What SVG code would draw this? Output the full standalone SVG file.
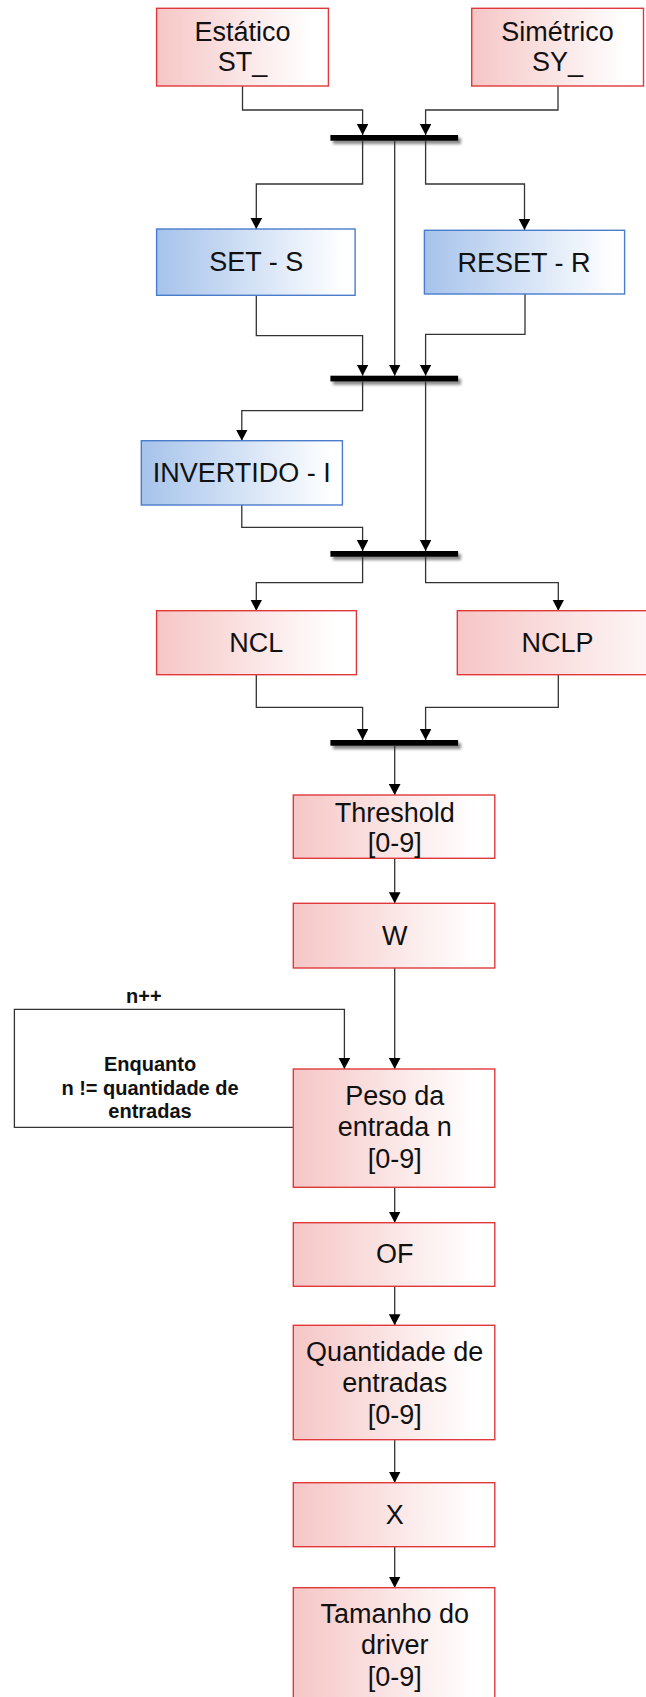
<svg xmlns="http://www.w3.org/2000/svg" width="646" height="1697" viewBox="0 0 646 1697">
<defs>
<linearGradient id="gr" x1="0" y1="0" x2="1" y2="0">
<stop offset="0" stop-color="#f6c6c6"/>
<stop offset="0.9" stop-color="#ffffff"/>
</linearGradient>
<linearGradient id="gb" x1="0" y1="0" x2="1" y2="0">
<stop offset="0" stop-color="#a6c3eb"/>
<stop offset="0.95" stop-color="#ffffff"/>
</linearGradient>
<filter id="sh" x="-20%" y="-100%" width="140%" height="400%">
<feGaussianBlur stdDeviation="1.8"/>
</filter>
<marker id="ah" markerUnits="userSpaceOnUse" markerWidth="12" markerHeight="12" refX="11" refY="5.8" orient="auto">
<path d="M0,0 L11,5.8 L0,11.6 z" fill="#000"/>
</marker>
</defs>
<style>
.red rect{fill:url(#gr);stroke:#e0393c;stroke-width:1.4}
.blue rect{fill:url(#gb);stroke:#4a7ccc;stroke-width:1.4}
text{font-family:"Liberation Sans",Arial,sans-serif;font-size:27px;fill:#111;text-anchor:middle}
.lbl{font-size:20px;font-weight:bold}
#connectors path{fill:none;stroke:#333;stroke-width:1.3}
.arr{marker-end:url(#ah)}
.bar{fill:#000}
.bsh{fill:#888;filter:url(#sh)}
</style>

<g id="bars">
<rect class="bsh" x="333" y="138" width="128" height="6"/>
<rect class="bar" x="330.4" y="135" width="127.7" height="5.7"/>
<rect class="bsh" x="333" y="378.7" width="128" height="6"/>
<rect class="bar" x="330.4" y="375.7" width="127.7" height="5.7"/>
<rect class="bsh" x="333" y="554" width="128" height="6"/>
<rect class="bar" x="330.4" y="551" width="127.7" height="5.7"/>
<rect class="bsh" x="333" y="743" width="128" height="6"/>
<rect class="bar" x="330.4" y="740" width="127.7" height="5.7"/>
</g>

<g id="connectors">
<path class="arr" d="M242.5 86 V110 H362.6 V135"/>
<path class="arr" d="M558 86 V110 H425.6 V135"/>
<path class="arr" d="M362.6 140.7 V184 H256.3 V229"/>
<path class="arr" d="M425.6 140.7 V184 H524.5 V230"/>
<path class="arr" d="M394.7 140.7 V375.7"/>
<path class="arr" d="M256.3 295 V335.7 H362.6 V375.7"/>
<path class="arr" d="M525 294 V334.3 H425.6 V375.7"/>
<path class="arr" d="M362.6 381.4 V410.7 H241.8 V440.7"/>
<path class="arr" d="M425.6 381.4 V551"/>
<path class="arr" d="M241.8 505 V527.3 H362.6 V551"/>
<path class="arr" d="M362.6 556.7 V582.7 H256.3 V610.7"/>
<path class="arr" d="M425.6 556.7 V582.7 H558.3 V610.7"/>
<path class="arr" d="M256.3 675 V707.3 H362.6 V740"/>
<path class="arr" d="M558.3 675 V707.3 H425.6 V740"/>
<path class="arr" d="M394.7 745.7 V795"/>
<path class="arr" d="M394.7 858.3 V903.3"/>
<path class="arr" d="M394.7 968 V1069"/>
<path class="arr" d="M293.3 1127.3 H14.4 V1009.3 H344.4 V1069"/>
<path class="arr" d="M394.7 1187.3 V1222.7"/>
<path class="arr" d="M394.7 1286.3 V1325.3"/>
<path class="arr" d="M394.7 1439.7 V1482.7"/>
<path class="arr" d="M394.7 1546.7 V1587.7"/>
</g>

<g id="loop-labels">
<text class="lbl" x="143.8" y="1002.7">n++</text>
<text class="lbl" x="150" y="1070.7">Enquanto</text>
<text class="lbl" x="150" y="1095">n != quantidade de</text>
<text class="lbl" x="150" y="1118.3">entradas</text>
</g>

<g id="estatico" class="red">
<rect x="156.6" y="8.3" width="171.8" height="77.7"/>
<text x="242.5" y="40.7">Estático</text>
<text x="242.5" y="71.2">ST_</text>
</g>
<g id="simetrico" class="red">
<rect x="471.7" y="8.3" width="171.8" height="77.7"/>
<text x="557.5" y="40.7">Simétrico</text>
<text x="557.5" y="71.2">SY_</text>
</g>
<g id="set" class="blue">
<rect x="156.6" y="229" width="198.5" height="66.3"/>
<text x="256.3" y="271">SET - S</text>
</g>
<g id="reset" class="blue">
<rect x="424.4" y="230.3" width="200.2" height="63.7"/>
<text x="524" y="272">RESET - R</text>
</g>
<g id="invertido" class="blue">
<rect x="141.3" y="440.7" width="201.1" height="64.3"/>
<text x="241.8" y="482">INVERTIDO - I</text>
</g>
<g id="ncl" class="red">
<rect x="156.6" y="610.7" width="199.8" height="64"/>
<text x="256.3" y="652">NCL</text>
</g>
<g id="nclp" class="red">
<rect x="457.3" y="610.7" width="250" height="64"/>
<text x="557.5" y="652">NCLP</text>
</g>
<g id="threshold" class="red">
<rect x="293.3" y="795" width="201.5" height="63.3"/>
<text x="394.7" y="822">Threshold</text>
<text x="394.7" y="852">[0-9]</text>
</g>
<g id="w" class="red">
<rect x="293.3" y="903.3" width="201.5" height="64.7"/>
<text x="394.7" y="945">W</text>
</g>
<g id="peso" class="red">
<rect x="293.3" y="1069" width="201.5" height="118.3"/>
<text x="394.7" y="1105">Peso da</text>
<text x="394.7" y="1136">entrada n</text>
<text x="394.7" y="1167.5">[0-9]</text>
</g>
<g id="of" class="red">
<rect x="293.3" y="1222.7" width="201.5" height="63.6"/>
<text x="394.7" y="1263.3">OF</text>
</g>
<g id="quantidade" class="red">
<rect x="293.3" y="1325.3" width="201.5" height="114.4"/>
<text x="394.7" y="1360.7">Quantidade de</text>
<text x="394.7" y="1391.7">entradas</text>
<text x="394.7" y="1424">[0-9]</text>
</g>
<g id="x" class="red">
<rect x="293.3" y="1482.7" width="201.5" height="64"/>
<text x="394.7" y="1524">X</text>
</g>
<g id="tamanho" class="red">
<rect x="293.3" y="1587.7" width="201.5" height="140"/>
<text x="394.7" y="1623.3">Tamanho do</text>
<text x="394.7" y="1654">driver</text>
<text x="394.7" y="1686">[0-9]</text>
</g>
</svg>
